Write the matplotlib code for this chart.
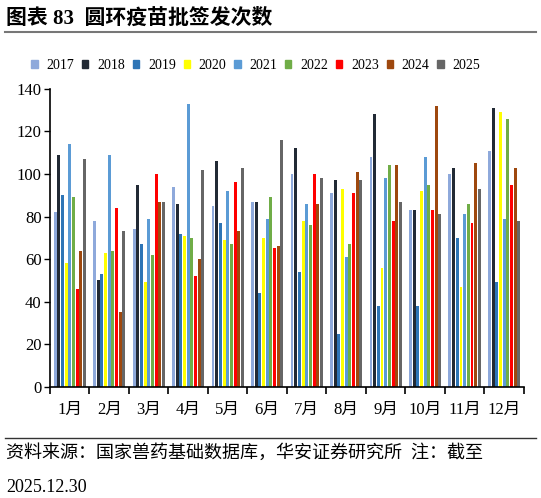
import numpy as np
import matplotlib.pyplot as plt
from matplotlib.lines import Line2D

plt.rcParams['font.family'] = ['Liberation Serif', 'Noto Sans CJK SC']

months = ['1月', '2月', '3月', '4月', '5月', '6月', '7月', '8月', '9月', '10月', '11月', '12月']
years = ['2017', '2018', '2019', '2020', '2021', '2022', '2023', '2024', '2025']

v2017 = [82, 78, 74, 94, 85, 87, 100, 91, 108, 83, 100, 111]
v2018 = [109, 50, 95, 86, 106, 87, 112, 97, 128, 83, 103, 131]
v2019 = [90, 53, 67, 72, 77, 44, 54, 25, 38, 38, 70, 49]
v2020 = [58, 63, 49, 71, 69, 70, 78, 93, 56, 92, 47, 129]
v2021 = [114, 109, 79, 133, 92, 79, 86, 61, 98, 108, 81, 79]
v2022 = [89, 64, 62, 70, 67, 89, 76, 67, 104, 95, 86, 126]
v2023 = [46, 84, 100, 52, 96, 65, 100, 91, 78, 83, 77, 95]
v2024 = [64, 35, 87, 60, 73, 66, 86, 101, 104, 132, 105, 103]
v2025 = [107, 73, 87, 102, 103, 116, 98, 97, 87, 81, 93, 78]

series = [v2017, v2018, v2019, v2020, v2021, v2022, v2023, v2024, v2025]
colors = ['#8EA9DB', '#222A35', '#2E75B6', '#FFFF00', '#5B9BD5',
          '#70AD47', '#FF0000', '#9E480E', '#666666']

fig = plt.figure(figsize=(5.41, 4.98), dpi=100)
ax = fig.add_axes([0.0924, 0.2235, 0.876, 0.598])

x = np.arange(len(months))
step = 0.093
width = 0.075
for i, (vals, c) in enumerate(zip(series, colors)):
    ax.bar(x + (i - 4) * step, vals, width=width, color=c, label=years[i])

ax.set_xlim(-0.5, 11.5)
ax.set_ylim(0, 140)
ax.set_yticks(range(0, 141, 20))
ax.tick_params(axis='y', labelsize=12, length=4, width=1, direction='out', pad=2)
ax.set_xticks(x)
ax.set_xticklabels(months)
ax.tick_params(axis='x', which='major', length=0, labelsize=12, pad=11)
ax.set_xticks(np.arange(-0.5, 12, 1), minor=True)
ax.tick_params(axis='x', which='minor', length=5, width=1.2, direction='out')
for s in ['top', 'right']:
    ax.spines[s].set_visible(False)
ax.spines['left'].set_linewidth(1.2)
ax.spines['bottom'].set_linewidth(1.2)

handles = [plt.Rectangle((0, 0), 1, 1, color=c) for c in colors]
fig.legend(handles, years, loc='center', bbox_to_anchor=(0.473, 0.869), ncol=9,
           frameon=False, fontsize=10, handlelength=0.45, handleheight=0.45,
           handletextpad=0.65, columnspacing=0.55)

fig.text(0.012, 0.963, '图表 83  圆环疫苗批签发次数', fontsize=15, fontweight='bold',
         va='center', ha='left')
fig.add_artist(Line2D([0.009, 0.99], [0.936, 0.936], color='#777777', lw=1.5))
fig.add_artist(Line2D([0.009, 0.99], [0.12, 0.12], color='#333333', lw=1))
fig.text(0.012, 0.09, '资料来源：国家兽药基础数据库，华安证券研究所  注：截至',
         fontsize=13, va='center', ha='left')
fig.text(0.012, 0.022, '2025.12.30', fontsize=13, va='center', ha='left')

fig.savefig('out.png', dpi=100)
